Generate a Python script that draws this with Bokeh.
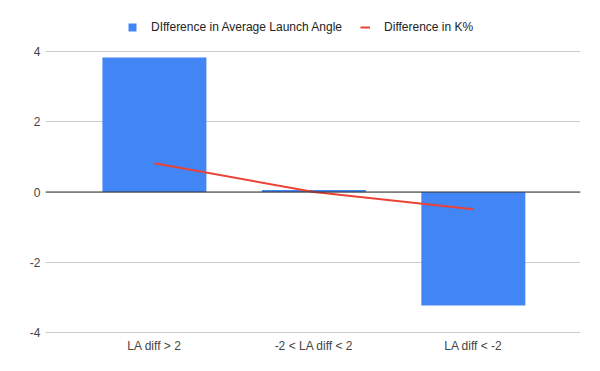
from bokeh.plotting import figure
from bokeh.models import Span, Legend, LegendItem, FixedTicker, Range1d
from bokeh.embed import file_html
from bokeh.resources import INLINE

categories = ["LA diff > 2", "-2 < LA diff < 2", "LA diff < -2"]
launch_angle_diff = [3.83, 0.06, -3.23]
k_pct_diff = [0.82, 0.0, -0.49]
y_ticks = [-4, -2, 0, 2, 4]

xs = list(range(len(categories)))

FONT = "Liberation Sans"
# frame extends above the top gridline so the legend can sit inside it
p = figure(width=584, height=355, output_backend="svg", toolbar_location=None,
           x_range=Range1d(-0.683, 2.672), y_range=Range1d(-4.028, 5.31),
           min_border_left=45, min_border_right=4, min_border_top=5, min_border_bottom=22)
p.outline_line_color = None
p.background_fill_color = "white"

bars = p.vbar(x=xs, top=launch_angle_diff, bottom=0, width=0.652,
              fill_color="#4285F4", line_color=None)
p.add_layout(Span(location=0, dimension="width", line_color="#333333", line_width=1))
ln = p.line(x=xs, y=k_pct_diff, line_color="#EA4335", line_width=2)

p.xgrid.visible = False
p.ygrid.ticker = FixedTicker(ticks=y_ticks)
p.ygrid.grid_line_color = "#cccccc"

p.yaxis.ticker = FixedTicker(ticks=y_ticks)
p.yaxis.major_label_overrides = {t: str(t) for t in y_ticks}
p.xaxis.ticker = FixedTicker(ticks=xs)
p.xaxis.major_label_overrides = {i: c for i, c in enumerate(categories)}
for ax in (p.xaxis[0], p.yaxis[0]):
    ax.axis_line_color = None
    ax.major_tick_line_color = None
    ax.minor_tick_line_color = None
    ax.major_tick_out = 0
    ax.major_tick_in = 0
    ax.minor_tick_out = 0
    ax.minor_tick_in = 0
    ax.major_label_text_font = FONT
    ax.major_label_text_font_size = "12px"
    ax.major_label_text_color = "#444444"
p.yaxis.major_label_standoff = 5
p.xaxis.major_label_standoff = 5

legend = Legend(items=[LegendItem(label="DIfference in Average Launch Angle", renderers=[bars]),
                       LegendItem(label="Difference in K%", renderers=[ln])],
                orientation="horizontal", location=(82, 299),
                label_text_font=FONT, label_text_font_size="12px", label_text_color="#222222",
                glyph_width=10, glyph_height=10, label_standoff=14, spacing=18,
                padding=0, margin=0, border_line_color=None, background_fill_alpha=0)
p.add_layout(legend, "center")

open("out.html", "w").write(file_html(p, INLINE))
